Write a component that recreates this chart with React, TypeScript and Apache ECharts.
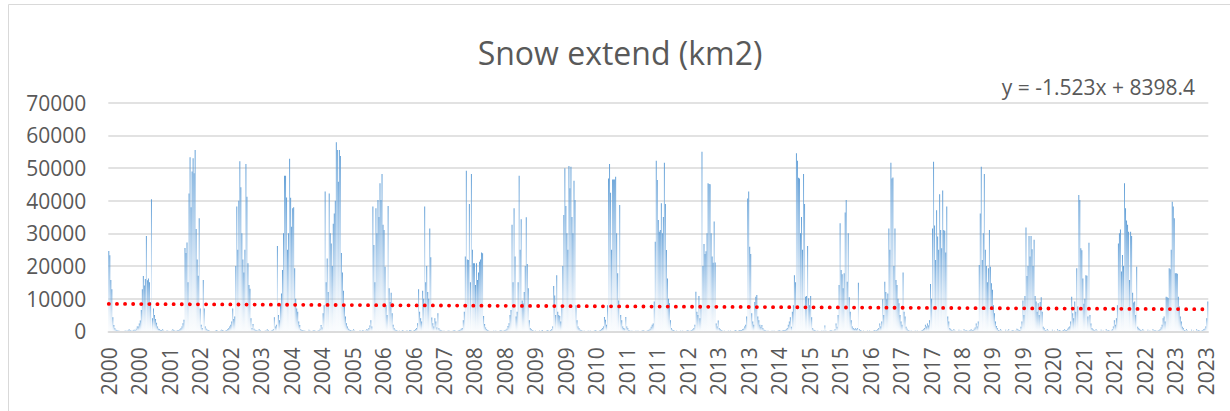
import React, { useEffect, useRef } from "react";
import * as echarts from "echarts";

// 8-day snow-cover extent (km2), one array per year
const years = [2000, 2001, 2002, 2003, 2004, 2005, 2006, 2007, 2008, 2009, 2010, 2011, 2012, 2013, 2014, 2015, 2016, 2017, 2018, 2019, 2020, 2021, 2022, 2023];

const snow2000 = [24600, 23300, 15700, 12900, 4300, 1900, 900, 500,
  300, 200, 150, 100, 100, 80, 60, 100, 200, 150, 100, 400, 600, 300, 200, 100, 300, 500, 400, 800, 1500,
  1500, 2400, 3300, 6500, 12900, 16900, 14000, 16000, 29200];
const snow2001 = [15600, 16200, 15000, 9000, 40400, 4000, 7000, 5000, 3800, 2600, 1500, 800,
  600, 400, 300, 600, 200, 100, 100, 200, 150, 100, 80, 100, 200, 600, 300, 200, 100, 150, 300, 400, 600, 900, 1500,
  2500, 3500, 25500, 24000, 27200, 15000, 42200, 53300, 38000, 48900, 53000];
const snow2002 = [48400, 55500, 31300, 22000, 17000, 34600, 7000, 2000, 1000, 15700, 7000, 1500, 800,
  500, 300, 200, 100, 100, 80, 60, 100, 200, 300, 150, 100, 100, 200, 500, 300, 200, 100, 200, 400, 600, 900, 1500,
  2000, 3000, 7000, 3800, 4500, 20000, 38200, 25000, 40000, 52100];
const snow2003 = [44100, 30000, 22000, 18000, 25000, 51200, 41200, 20800, 14200, 13000, 4000, 1000,
  2200, 800, 500, 300, 200, 150, 700, 300, 100, 100, 80, 100, 200, 150, 600, 300, 100, 100, 200, 400, 600,
  4300, 1500, 2000, 26100, 5000, 3400, 8000, 11600, 18800, 30000, 47600, 47600, 41000];
const snow2004 = [25000, 30000, 52800, 40900, 32000, 37700, 38000, 19300, 10000, 7000, 6000, 3000, 1900, 600,
  400, 300, 200, 150, 100, 80, 100, 500, 200, 100, 100, 150, 300, 200, 100, 100, 200, 400, 800,
  1900, 1200, 5500, 8000, 42800, 15000, 22300, 12000, 42200, 30000, 26900, 20000, 32900];
const snow2005 = [36100, 40000, 57900, 55500, 45800, 55500, 53700, 24000, 18000, 12400, 7500, 4500, 2500, 1500, 800,
  500, 300, 200, 150, 600, 200, 100, 100, 80, 100, 200, 150, 100, 300, 200, 100, 200, 700, 500, 1000, 1800,
  3400, 1500, 38200, 26400, 15000, 37700, 30000, 40200, 35000, 45300];
const snow2006 = [40200, 48200, 32600, 31000, 19800, 8000, 5000, 38400, 13200, 9000, 11800, 5500, 2000, 900, 500,
  300, 200, 100, 150, 100, 80, 300, 200, 100, 100, 150, 200, 100, 300, 400, 200, 100, 150, 300, 600, 1000,
  2500, 12900, 6000, 4000, 3000, 12400, 10000, 38200, 15000, 20000];
const snow2007 = [12000, 10000, 31500, 22700, 4200, 2500, 1500, 4000, 3000, 1200, 5500, 900, 500,
  300, 200, 100, 150, 100, 80, 100, 200, 150, 100, 100, 80, 200, 300, 150, 100, 100, 200, 300, 500, 800, 1000,
  3400, 6000, 22900, 49200, 22000, 21800, 39000, 15000, 48200, 25000, 20800];
const snow2008 = [20800, 14200, 20800, 15700, 18000, 21300, 22000, 24100, 23900, 4700, 2200, 1200, 600,
  300, 200, 100, 100, 80, 100, 200, 100, 150, 100, 80, 100, 200, 300, 150, 100, 200, 300, 500, 800,
  1600, 2500, 5000, 6500, 32600, 15000, 37700, 22900, 4500, 6000, 15000, 47600, 25000];
const snow2009 = [34300, 9400, 8500, 12000, 20000, 34900, 20600, 13200, 3400, 900, 600,
  300, 200, 100, 150, 100, 80, 100, 200, 100, 150, 300, 100, 80, 100, 200, 300, 200, 100, 300, 600, 1500,
  13900, 11000, 5000, 17200, 6000, 5000, 4700, 3000, 8000, 20000, 35600, 49900, 38400, 30000];
const snow2010 = [25000, 50600, 43800, 50400, 35000, 30000, 46100, 40200, 8000, 3400, 1500, 900, 500,
  300, 200, 100, 150, 100, 80, 100, 200, 100, 150, 100, 80, 100, 200, 300, 150, 100, 100, 200, 300, 600, 1000, 1500,
  4400, 3500, 2000, 8000, 46800, 51200, 42400, 25000, 46500, 46500];
const snow2011 = [46500, 47300, 30000, 17800, 9400, 38700, 5000, 3400, 1500, 1000, 800, 4400, 1500, 900,
  300, 200, 100, 150, 100, 80, 100, 200, 100, 150, 100, 80, 100, 200, 300, 150, 100, 100, 200, 300, 500, 800,
  1400, 2000, 2400, 9100, 27400, 52200, 46300, 34100, 30500, 31000];
const snow2012 = [39200, 30000, 35000, 51600, 39000, 24900, 16200, 10000, 8600, 3400, 900, 500,
  300, 200, 100, 150, 100, 80, 100, 200, 100, 150, 100, 80, 100, 200, 300, 150, 100, 200, 300, 600, 1000,
  2000, 12100, 6000, 5000, 10800, 4000, 8000, 55000, 20000, 26700, 23700, 24500, 30000];
const snow2013 = [45300, 45100, 45000, 30000, 22900, 21000, 33600, 21100, 2400, 1500, 3300, 1000, 600,
  300, 200, 100, 150, 100, 80, 100, 200, 100, 150, 100, 80, 100, 200, 300, 150, 100, 200, 300, 400, 300, 600, 800, 1500, 2000,
  4500, 40700, 42800, 25900, 23700, 5500, 3000, 2000];
const snow2014 = [9000, 10600, 11100, 4500, 3400, 2000, 1400, 1900, 1000, 500,
  300, 200, 100, 150, 100, 80, 100, 200, 100, 150, 100, 80, 100, 200, 300, 150, 100, 200, 300, 400, 300, 600, 1000, 2000,
  3000, 4300, 1400, 6000, 8000, 17200, 15000, 54500, 52200, 47000, 46800, 30000];
const snow2015 = [35000, 25000, 48200, 39000, 10600, 10800, 26100, 10100, 8000, 10800, 4300, 900, 500,
  300, 200, 100, 150, 100, 80, 100, 200, 100, 150, 1800, 200, 100, 80, 100, 200, 300, 150, 100, 200, 600, 2400, 1400,
  5000, 14200, 33100, 18800, 17500, 13200, 17800, 36400, 40200, 15200];
const snow2016 = [30000, 10400, 6000, 3400, 1500, 1000, 700, 900, 600, 1000, 14900, 600,
  300, 200, 100, 150, 100, 80, 100, 200, 100, 150, 100, 80, 100, 200, 300, 150, 400, 600, 1000,
  2400, 1500, 3000, 9800, 5000, 15200, 12000, 9800, 11600, 31500, 25000, 51600, 46800, 47100, 20000];
const snow2017 = [31500, 15700, 14200, 10000, 8600, 5000, 3000, 2000, 18000, 6000, 4500, 1400, 800,
  300, 200, 100, 150, 100, 80, 100, 200, 100, 150, 100, 80, 100, 200, 300, 600, 1000,
  2000, 1500, 2400, 1800, 3400, 14500, 10000, 31500, 51900, 32400, 21800, 37100, 29000, 25000, 42000, 31000];
const snow2018 = [25400, 43100, 31000, 30800, 24100, 38200, 4500, 3000, 1000, 600,
  300, 200, 700, 150, 100, 80, 100, 500, 100, 150, 100, 80, 600, 200, 300, 150, 100, 200, 300, 600, 400, 300, 800, 1200,
  2400, 1500, 3000, 20300, 36100, 50400, 21800, 30000, 48200, 25000, 20000, 15000];
const snow2019 = [19300, 31000, 19800, 14700, 12700, 8000, 5500, 3000, 1600, 900,
  300, 200, 700, 150, 100, 80, 100, 500, 100, 150, 600, 80, 100, 200, 300, 150, 100, 200, 800, 600, 400, 300, 1400,
  3000, 9400, 5000, 10800, 31800, 16900, 20000, 29200, 22900, 29200, 25100, 20000, 28000];
const snow2020 = [10800, 9100, 6000, 8600, 5000, 9000, 10400, 6000, 1400, 900,
  300, 200, 700, 150, 100, 80, 100, 500, 100, 150, 100, 80, 600, 200, 300, 150, 100, 200, 300, 600, 400, 300, 800, 1200, 1500, 3000,
  10600, 5500, 4000, 9100, 6000, 19300, 7600, 41700, 40200, 25400];
const snow2021 = [24800, 16200, 8400, 10000, 17200, 17000, 4500, 27100, 5000, 2400, 1000, 600,
  300, 200, 700, 150, 100, 80, 100, 500, 100, 150, 100, 80, 600, 200, 300, 150, 100, 200, 600, 1500,
  3400, 2000, 4000, 8000, 26900, 30000, 31200, 18300, 23400, 20000, 45300, 37700, 33900, 32600];
const snow2022 = [30500, 15700, 30500, 29200, 11800, 8800, 9100, 5000, 19800, 1400, 900, 600,
  300, 200, 700, 150, 100, 80, 100, 500, 100, 150, 100, 80, 600, 200, 300, 150, 100, 200, 300, 600, 1200, 2000,
  4000, 4500, 3000, 10600, 10400, 10200, 19300, 19000, 25000, 39700, 38200, 34600];
const snow2023 = [17800, 17800, 17600, 10600, 7600, 4500, 3000, 1400, 900,
  300, 200, 700, 150, 100, 80, 100, 500, 100, 150, 100, 80, 600, 200, 300, 150, 100, 200, 300, 600, 800,
  1500, 4000, 9100];

const snowByYear = [snow2000, snow2001, snow2002, snow2003, snow2004, snow2005, snow2006, snow2007,
  snow2008, snow2009, snow2010, snow2011, snow2012, snow2013, snow2014, snow2015, snow2016, snow2017,
  snow2018, snow2019, snow2020, snow2021, snow2022, snow2023];

// Linear trendline as printed on the chart (x = 1..N)
const TREND_SLOPE = -1.523;
const TREND_INTERCEPT = 8398.4;
const TREND_LABEL = "y = -1.523x + 8398.4";
const TITLE = "Snow extend (km2)";

const Y_MIN = 0;
const Y_MAX = 70000;
const Y_STEP = 10000;

const categories: string[] = [];
const values: number[] = [];
years.forEach((yr, i) => {
  snowByYear[i].forEach((v) => {
    categories.push(String(yr));
    values.push(v);
  });
});
const N = values.length;
const trendData = [
  [0, TREND_SLOPE * 1 + TREND_INTERCEPT],
  [N - 1, TREND_SLOPE * N + TREND_INTERCEPT],
];

const FONT = "'Open Sans', 'Liberation Sans', sans-serif";
const TEXT_COLOR = "#595959";
const GRID_COLOR = "#d9d9d9";

export default function App() {
  const ref = useRef<HTMLDivElement>(null);
  useEffect(() => {
    if (!ref.current) return;
    const chart = echarts.init(ref.current, null, { renderer: "svg" });
    chart.setOption({
      animation: false,
      backgroundColor: "#ffffff",
      textStyle: { fontFamily: FONT },
      grid: { left: 108.3, right: 21.7, top: 102.7, bottom: 79.7, containLabel: false },
      xAxis: {
        type: "category",
        data: categories,
        boundaryGap: true,
        axisLine: { show: true, lineStyle: { color: GRID_COLOR, width: 1.5 } },
        axisTick: { show: false },
        axisLabel: {
          interval: 29,
          rotate: 90,
          fontSize: 21,
          color: TEXT_COLOR,
          fontFamily: FONT,
          margin: 16,
        },
        splitLine: { show: false },
      },
      yAxis: {
        type: "value",
        min: Y_MIN,
        max: Y_MAX,
        interval: Y_STEP,
        axisLine: { show: false },
        axisTick: { show: false },
        axisLabel: {
          fontSize: 21,
          color: TEXT_COLOR,
          fontFamily: FONT,
          margin: 22,
          formatter: (v: number) => String(v),
        },
        splitLine: { lineStyle: { color: GRID_COLOR, width: 1.5 } },
      },
      series: [
        {
          type: "bar",
          data: values,
          barCategoryGap: "35%",
          itemStyle: {
            color: new echarts.graphic.LinearGradient(0, 0, 0, 1, [
              { offset: 0, color: "rgba(91,155,213,0.95)" },
              { offset: 0.5, color: "rgba(141,186,228,0.55)" },
              { offset: 1, color: "rgba(222,235,247,0.15)" },
            ]),
          },
          z: 2,
        },
        {
          type: "line",
          data: trendData,
          symbol: "none",
          lineStyle: { color: "#ff0000", width: 3.8, type: [0.1, 8], cap: "round" },
          z: 5,
        },
      ],
      graphic: [
        {
          type: "rect",
          shape: { x: 8.5, y: 4.5, width: 1400, height: 600 },
          style: { fill: "none", stroke: GRID_COLOR, lineWidth: 1 },
          z: -10,
        },
        {
          type: "text",
          x: 620,
          y: 52,
          style: {
            text: TITLE,
            font: `32px ${FONT}`,
            fill: TEXT_COLOR,
            textAlign: "center",
            textVerticalAlign: "middle",
          },
        },
        {
          type: "text",
          x: 1195,
          y: 87,
          style: {
            text: TREND_LABEL,
            font: `21px ${FONT}`,
            fill: TEXT_COLOR,
            textAlign: "right",
            textVerticalAlign: "middle",
          },
        },
      ],
    });
    return () => chart.dispose();
  }, []);
  return (
    <div
      ref={ref}
      style={{ position: "absolute", left: 0, top: 0, width: 1230, height: 411 }}
    />
  );
}
